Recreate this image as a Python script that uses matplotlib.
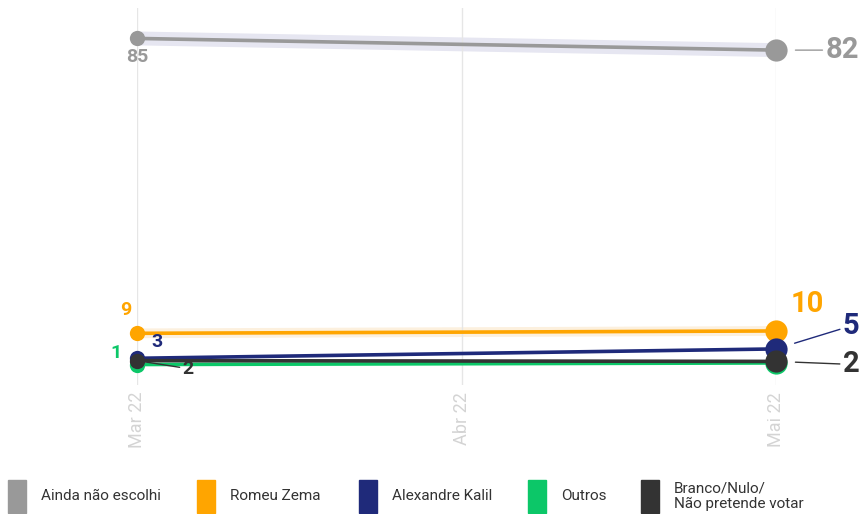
import matplotlib
matplotlib.use('Agg')
import matplotlib.pyplot as plt
from matplotlib.patches import Rectangle
from datetime import datetime

plt.rcParams['font.family'] = ['Roboto', 'DejaVu Sans']

# data
dates = [datetime(2022, 3, 1), datetime(2022, 5, 1)]
tick_dates = [datetime(2022, 3, 1), datetime(2022, 4, 1), datetime(2022, 5, 1)]
tick_labels = ['Mar 22', 'Abr 22', 'Mai 22']

names = ['Ainda não escolhi', 'Romeu Zema', 'Alexandre Kalil', 'Outros',
         'Branco/Nulo/\nNão pretende votar']
ainda = [85, 82]
zema = [9.4, 10]
kalil = [3, 5.4]
outros = [1.4, 1.8]
branco = [2.4, 2.2]
series = [ainda, zema, kalil, outros, branco]
colors = ['#999999', '#ffa500', '#1f2a7a', '#0cc768', '#333333']

# label offsets in pixels (start, end), and whether a leader line is drawn
start_off = [(0, -19, False), (-11, 23, False), (20, 16, False), (-21, 12, False), (51, -8, True)]
end_off = [(66, 0, True), (31, 27, False), (75, 23, True), None, (75, -3, True)]

fig = plt.figure(figsize=(8.62, 5.14), dpi=100)
ax = fig.add_axes([137 / 862, 1 - 385 / 514, 639 / 862, 377 / 514])

draw_order = [0, 1, 3, 2, 4]
for i in draw_order:
    vals = series[i]
    c = colors[i]
    if i == 0:
        ax.plot(dates, vals, color='#e6e6f1', lw=10, solid_capstyle='butt', zorder=1, clip_on=False)
    if i == 1:
        ax.plot(dates, vals, color='#fcf0de', lw=7, solid_capstyle='butt', zorder=1, clip_on=False)
    ax.plot(dates, vals, color=c, lw=2.6, zorder=2 + i, clip_on=False)
    ax.plot(dates[0], vals[0], 'o', color=c, ms=11, mec='none', zorder=2 + i, clip_on=False)
    ax.plot(dates[1], vals[1], 'o', color=c, ms=16, mec='none', zorder=2 + i, clip_on=False)

    dx, dy, leader = start_off[i]
    ax.annotate(f'{round(vals[0])}', (dates[0], vals[0]), xytext=(dx, dy),
                textcoords='offset pixels', ha='center', va='center',
                fontsize=14, fontweight='bold', color=c, zorder=10,
                arrowprops=dict(arrowstyle='-', color=c, lw=1, shrinkA=0, shrinkB=6) if leader else None)
    if end_off[i] is not None:
        dx, dy, leader = end_off[i]
        ax.annotate(f'{round(vals[1])}', (dates[1], vals[1]), xytext=(dx, dy),
                    textcoords='offset pixels', ha='center', va='center',
                    fontsize=21, fontweight='bold', color=c, zorder=10,
                    arrowprops=dict(arrowstyle='-', color=c, lw=1, shrinkA=0, shrinkB=14) if leader else None)

ax.set_xlim(dates[0], dates[1])
ax.set_ylim(-3.85, 92.8)
ax.set_xticks(tick_dates)
ax.set_xticklabels(tick_labels, rotation=90, color='#d4d4d4', fontsize=13)
ax.tick_params(axis='x', length=0, pad=5)
ax.set_yticks([])
ax.grid(axis='x', color='#e6e6e6', lw=1)
for s in ax.spines.values():
    s.set_visible(False)

# legend
patch_x = [8, 197, 359, 528, 641]
for i, name in enumerate(names):
    x0 = patch_x[i] / 862
    fig.add_artist(Rectangle((x0, 1 - 513 / 514), 18 / 862, 33 / 514,
                             transform=fig.transFigure, color=colors[i]))
    fig.text(x0 + 33 / 862, 1 - 496 / 514, name, fontsize=11, color='#333333',
             ha='left', va='center', linespacing=1.15)

fig.savefig('out.png', dpi=100)
